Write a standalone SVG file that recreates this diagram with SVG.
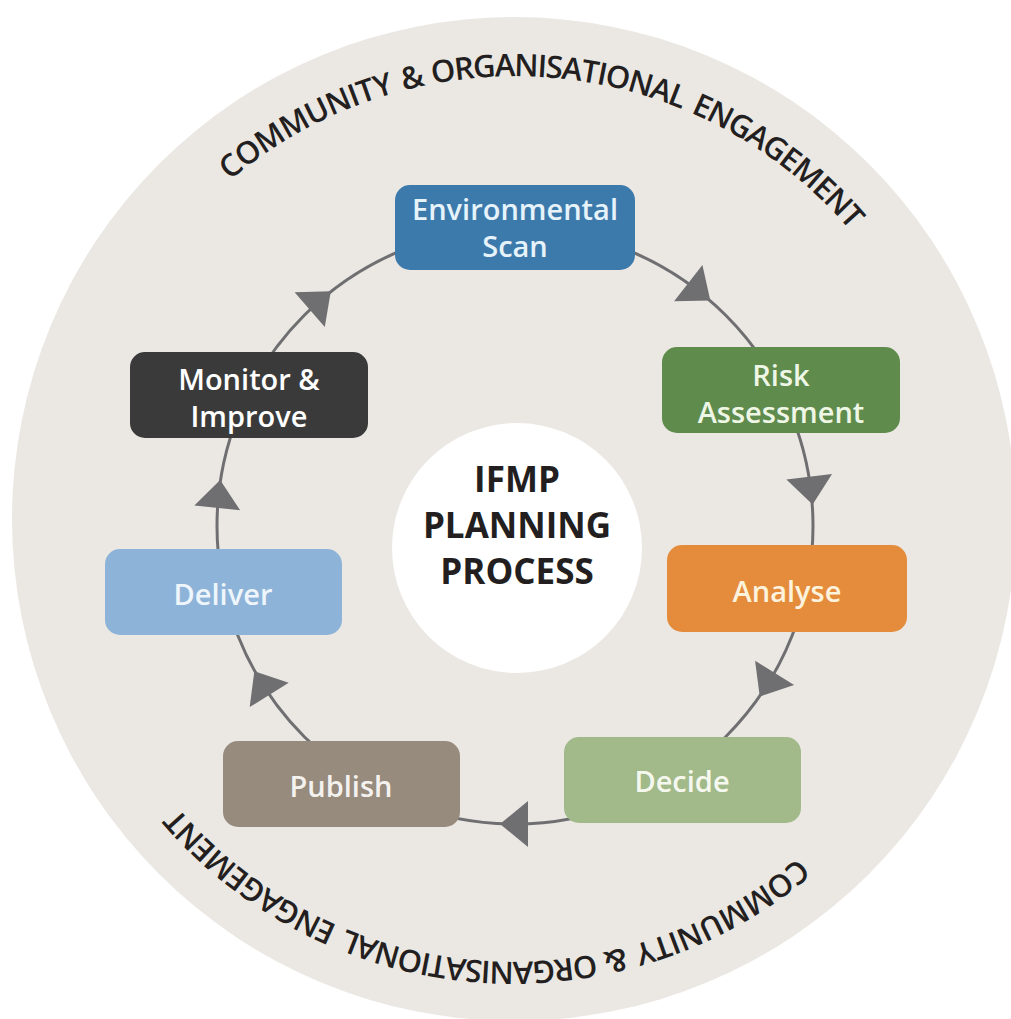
<svg xmlns="http://www.w3.org/2000/svg" width="1011" height="1019" viewBox="0 0 1011 1019">
  <style>
    .ring { font-family: "Open Sans", "Liberation Sans", sans-serif; font-weight: 600; font-size: 31px; fill: #231f20; }
    .lbl { font-family: "Open Sans", "Liberation Sans", sans-serif; font-weight: 600; font-size: 29px; text-anchor: middle; }
    .title { font-family: "Open Sans", "Liberation Sans", sans-serif; font-weight: 700; font-size: 35px; fill: #231f20; text-anchor: middle; }
    .box { stroke: none; }
    .cycle { fill: none; stroke: #6f6f72; stroke-width: 3; }
    .head { fill: #6f6f72; }
  </style>
  <defs>
    <path id="ringPath" d="M 229.9 180.4 A 442 442 0 1 1 798.1 857.6 A 442 442 0 1 1 229.9 180.4 Z"/>
    <polygon id="arrowHead" points="15,0 -13,-23 -13,23"/>
  </defs>

  <rect x="0" y="0" width="1011" height="1019" fill="#ffffff"/>
  <circle cx="514" cy="519" r="502" fill="#ebe8e4"/>

  <g id="ring-text-top">
    <text class="ring"><textPath href="#ringPath" startOffset="0" textLength="188" lengthAdjust="spacing">COMMUNITY</textPath></text>
    <text class="ring"><textPath href="#ringPath" startOffset="197">&amp;</textPath></text>
    <text class="ring"><textPath href="#ringPath" startOffset="227" textLength="254" lengthAdjust="spacing">ORGANISATIONAL</textPath></text>
    <text class="ring"><textPath href="#ringPath" startOffset="490" textLength="200" lengthAdjust="spacing">ENGAGEMENT</textPath></text>
  </g>
  <g id="ring-text-bottom" transform="rotate(180 514 519)">
    <text class="ring"><textPath href="#ringPath" startOffset="0" textLength="188" lengthAdjust="spacing">COMMUNITY</textPath></text>
    <text class="ring"><textPath href="#ringPath" startOffset="197">&amp;</textPath></text>
    <text class="ring"><textPath href="#ringPath" startOffset="227" textLength="254" lengthAdjust="spacing">ORGANISATIONAL</textPath></text>
    <text class="ring"><textPath href="#ringPath" startOffset="490" textLength="200" lengthAdjust="spacing">ENGAGEMENT</textPath></text>
  </g>

  <g id="connectors">
    <circle class="cycle" cx="515" cy="526" r="298"/>
    <use href="#arrowHead" class="head" transform="translate(698.5 291.2) rotate(38)"/>
    <use href="#arrowHead" class="head" transform="translate(810.8 489.7) rotate(83)"/>
    <use href="#arrowHead" class="head" transform="translate(767.7 683.9) rotate(122)"/>
    <use href="#arrowHead" class="head" transform="translate(515 824) rotate(180)"/>
    <use href="#arrowHead" class="head" transform="translate(262.3 683.9) rotate(238)"/>
    <use href="#arrowHead" class="head" transform="translate(218.6 494.9) rotate(276)"/>
    <use href="#arrowHead" class="head" transform="translate(319.5 301.0) rotate(319)"/>
  </g>

  <g id="center">
    <circle cx="517" cy="548" r="125" fill="#ffffff"/>
    <text class="title" x="517" y="492">IFMP</text>
    <text class="title" x="517" y="538">PLANNING</text>
    <text class="title" x="517" y="584">PROCESS</text>
  </g>

  <g id="env-scan">
    <rect class="box" x="395" y="185" width="240" height="85" rx="15" fill="#3d7aac"/>
    <text class="lbl" x="515" y="220" fill="#e6f3fa">Environmental</text>
    <text class="lbl" x="515" y="257" fill="#e6f3fa">Scan</text>
  </g>

  <g id="risk-assessment">
    <rect class="box" x="662" y="347" width="238" height="86" rx="15" fill="#5f8b4c"/>
    <text class="lbl" x="781" y="386" fill="#eef6e6">Risk</text>
    <text class="lbl" x="781" y="423" fill="#eef6e6">Assessment</text>
  </g>

  <g id="analyse">
    <rect class="box" x="667" y="545" width="240" height="87" rx="15" fill="#e48c3c"/>
    <text class="lbl" x="787" y="602" fill="#fdf2dc">Analyse</text>
  </g>

  <g id="decide">
    <rect class="box" x="564" y="737" width="237" height="86" rx="15" fill="#a2b98a"/>
    <text class="lbl" x="682" y="792" fill="#f5f8ee">Decide</text>
  </g>

  <g id="publish">
    <rect class="box" x="223" y="741" width="237" height="86" rx="15" fill="#978b7e"/>
    <text class="lbl" x="341" y="797" fill="#f4f2ee">Publish</text>
  </g>

  <g id="deliver">
    <rect class="box" x="105" y="549" width="237" height="86" rx="15" fill="#8db3d8"/>
    <text class="lbl" x="223" y="605" fill="#eef5fb">Deliver</text>
  </g>

  <g id="monitor-improve">
    <rect class="box" x="130" y="352" width="238" height="86" rx="15" fill="#3b3a3b"/>
    <text class="lbl" x="249" y="390" fill="#ffffff">Monitor &amp;</text>
    <text class="lbl" x="249" y="427" fill="#ffffff">Improve</text>
  </g>
</svg>
